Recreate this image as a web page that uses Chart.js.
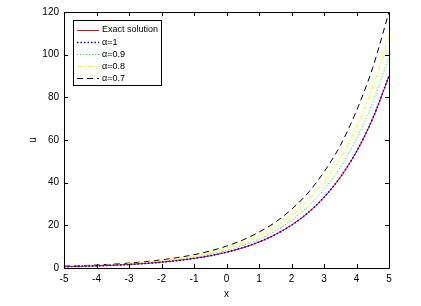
<!DOCTYPE html>
<html>
<head>
<meta charset="utf-8">
<script src="https://cdn.jsdelivr.net/npm/chart.js@4"></script>
<style>
html,body{margin:0;padding:0;background:#fff;}
#wrap{width:421px;height:306px;position:relative;}
</style>
</head>
<body>
<div id="wrap"><canvas id="c" width="421" height="306"></canvas></div>
<script>
const xValues = [-5,-4.5,-4,-3.5,-3,-2.5,-2,-1.5,-1,-0.5,0,0.5,1,1.5,2,2.5,3,3.5,4,4.5,5];
const exactValues = [0.61,0.78,1.00,1.28,1.65,2.12,2.72,3.49,4.48,5.75,7.39,9.49,12.18,15.64,20.09,25.79,33.12,42.52,54.60,70.11,90.02];
const alpha1Values = [0.61,0.78,1.00,1.28,1.65,2.12,2.72,3.49,4.48,5.75,7.39,9.49,12.18,15.64,20.09,25.79,33.12,42.52,54.60,70.11,90.02];
const alpha09Values = [0.68,0.87,1.12,1.43,1.85,2.37,3.05,3.91,5.00,6.42,8.24,10.58,13.57,17.41,22.36,28.68,36.80,47.21,60.59,77.75,99.0];
const alpha08Values = [0.76,0.98,1.25,1.60,2.06,2.65,3.40,4.33,5.56,7.13,9.16,11.67,14.98,19.24,24.51,31.46,40.41,51.45,66.07,84.83,108.7];
const alpha07Values = [0.85,1.09,1.40,1.79,2.31,2.97,3.81,4.89,6.23,7.99,10.27,13.10,16.81,21.43,27.52,35.07,45.04,57.40,73.71,93.95,120.0];
const seriesLabels = ['Exact solution','\u03b1=1','\u03b1=0.9','\u03b1=0.8','\u03b1=0.7'];
const xTicks = [-5,-4,-3,-2,-1,0,1,2,3,4,5];
const yTicks = [0,20,40,60,80,100,120];

function pts(ys){ return xValues.map((x,i)=>({x:x,y:ys[i]})); }

const FONT = "'Liberation Sans', Arial, Helvetica, sans-serif";

const frame = {
  id:'frame',
  afterDraw(chart){
    const ctx = chart.ctx, a = chart.chartArea;
    const xs = chart.scales.x, ys = chart.scales.y;
    ctx.save();
    ctx.strokeStyle = '#000';
    ctx.lineWidth = 1;
    ctx.beginPath();
    ctx.rect(Math.round(a.left)+0.5, Math.round(a.top)+0.5, Math.round(a.right-a.left), Math.round(a.bottom-a.top));
    ctx.stroke();
    const tl = 4;
    ctx.beginPath();
    xTicks.forEach(v=>{
      const px = Math.round(xs.getPixelForValue(v))+0.5;
      ctx.moveTo(px, a.bottom); ctx.lineTo(px, a.bottom-tl);
      ctx.moveTo(px, a.top); ctx.lineTo(px, a.top+tl);
    });
    yTicks.forEach(v=>{
      const py = Math.round(ys.getPixelForValue(v))+0.5;
      ctx.moveTo(a.left, py); ctx.lineTo(a.left+tl, py);
      ctx.moveTo(a.right, py); ctx.lineTo(a.right-tl, py);
    });
    ctx.stroke();

    // legend
    const bx = 73.5, by = 20.5, bw = 88, bh = 65;
    ctx.fillStyle = '#fff';
    ctx.fillRect(bx, by, bw, bh);
    ctx.strokeRect(bx, by, bw, bh);
    ctx.font = '9px ' + FONT;
    ctx.textBaseline = 'middle';
    ctx.textAlign = 'left';
    chart.data.datasets.forEach((ds,i)=>{
      const y = 29.5 + i*12.2;
      ctx.save();
      ctx.strokeStyle = ds.borderColor;
      ctx.lineWidth = ds.borderWidth;
      ctx.setLineDash(ds.borderDash || []);
      ctx.beginPath();
      ctx.moveTo(77, Math.round(y)+0.5); ctx.lineTo(99, Math.round(y)+0.5);
      ctx.stroke();
      ctx.restore();
      ctx.fillStyle = '#000';
      ctx.fillText(ds.label, 102, y+0.5);
    });
    ctx.restore();
  }
};

new Chart(document.getElementById('c'), {
  type:'line',
  data:{
    datasets:[
      {label:seriesLabels[0], data:pts(exactValues), borderColor:'#ff0000', borderWidth:1, pointRadius:0, order:2},
      {label:seriesLabels[1], data:pts(alpha1Values), borderColor:'#0000ff', borderWidth:1.6, borderDash:[1.5,2], pointRadius:0, order:0},
      {label:seriesLabels[2], data:pts(alpha09Values), borderColor:'#00ff00', borderWidth:1, borderDash:[1,2], pointRadius:0, order:3},
      {label:seriesLabels[3], data:pts(alpha08Values), borderColor:'#ffff00', borderWidth:1, borderDash:[5,2,1.5,2], pointRadius:0, order:4},
      {label:seriesLabels[4], data:pts(alpha07Values), borderColor:'#000000', borderWidth:1, borderDash:[6,4], pointRadius:0, order:5}
    ]
  },
  options:{
    responsive:false,
    animation:false,
    devicePixelRatio:1,
    cubicInterpolationMode:'monotone',
    layout:{padding:{left:0,right:32,top:12,bottom:0}},
    plugins:{legend:{display:false}, tooltip:{enabled:false}},
    scales:{
      x:{
        type:'linear', min:-5, max:5,
        afterBuildTicks(s){ s.ticks = xTicks.map(v=>({value:v})); },
        afterFit(s){ s.height = 38; },
        grid:{display:false, drawTicks:false},
        border:{display:false},
        ticks:{color:'#000', font:{family:FONT, size:10}, padding:5, maxRotation:0, autoSkip:false},
        title:{display:true, text:'x', color:'#000', font:{family:FONT, size:10}, padding:{top:0,bottom:6}}
      },
      y:{
        type:'linear', min:0, max:120,
        afterBuildTicks(s){ s.ticks = yTicks.map(v=>({value:v})); },
        afterFit(s){ s.width = 64; },
        grid:{display:false, drawTicks:false},
        border:{display:false},
        ticks:{color:'#000', font:{family:FONT, size:10}, padding:5, autoSkip:false},
        title:{display:true, text:'u', color:'#000', font:{family:FONT, size:10}, padding:{top:27,bottom:0}}
      }
    }
  },
  plugins:[frame]
});
</script>
</body>
</html>
